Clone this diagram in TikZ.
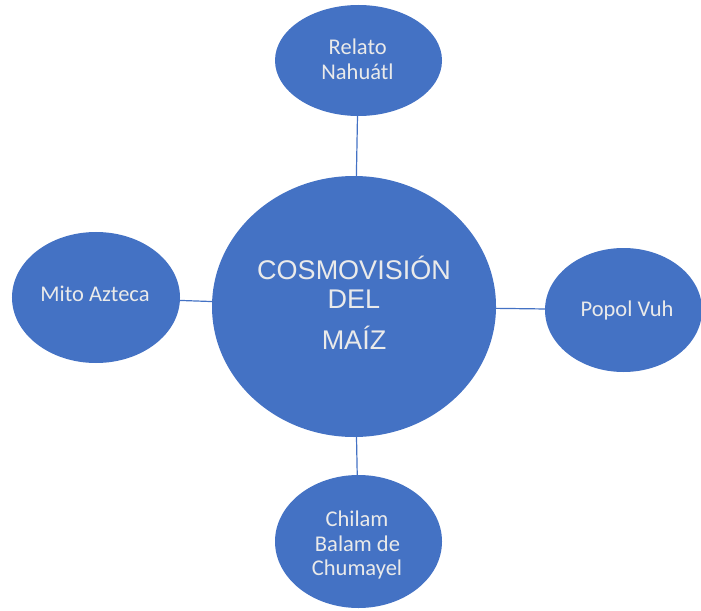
\documentclass[tikz,border=0pt]{standalone}
\usepackage{fontspec}
\usetikzlibrary{shapes.geometric}
\newfontfamily\smallfont{Carlito}
\newfontfamily\bigfont{Liberation Sans}
\definecolor{blobblue}{HTML}{4472C4}
\definecolor{txtgrey}{RGB}{234,234,234}
\tikzset{
  blob/.style={ellipse, fill=blobblue, draw=none, inner sep=0pt},
  link/.style={draw=blobblue, line width=1.2bp},
  smalltxt/.style={anchor=base, inner sep=0pt, text=txtgrey, font=\smallfont\fontsize{22.5bp}{25bp}\selectfont},
  bigtxt/.style={anchor=base, inner sep=0pt, text=txtgrey, font=\bigfont\fontsize{27bp}{31bp}\selectfont}
}
\begin{document}
\begin{tikzpicture}[x=1bp, y=-1bp]
\useasboundingbox (0,0) rectangle (701,611);
\clip (0,0) rectangle (701,611);
\node[blob, minimum width=284bp, minimum height=261bp] (main) at (354,306.5) {};
\node[blob, minimum width=167bp, minimum height=111bp] (top) at (358.5,60.5) {};
\node[blob, minimum width=168bp, minimum height=131bp] (left) at (96,297.5) {};
\node[blob, minimum width=157bp, minimum height=124bp] (right) at (623.5,310) {};
\node[blob, minimum width=167bp, minimum height=133bp] (bot) at (358.5,541.5) {};
\draw[link] (top) -- (main);
\draw[link] (main) -- (bot);
\draw[link] (left) -- (main);
\draw[link] (main) -- (right);
\node[bigtxt] (t1) at (354,279) {COSMOVISIÓN};
\node[bigtxt] (t2) at (354,308) {DEL};
\node[bigtxt] (t3) at (354,349) {MAÍZ};
\node[smalltxt] (r1) at (357.7,55) {Relato};
\node[smalltxt] (r2) at (357.5,80) {Nahuátl};
\node[smalltxt] (m1) at (95,301) {Mito Azteca};
\node[smalltxt] (p1) at (627,316) {Popol Vuh};
\node[smalltxt] (c1) at (357,526) {Chilam};
\node[smalltxt] (c2) at (357.5,551) {Balam de};
\node[smalltxt] (c3) at (357,575) {Chumayel};
\end{tikzpicture}
\end{document}
